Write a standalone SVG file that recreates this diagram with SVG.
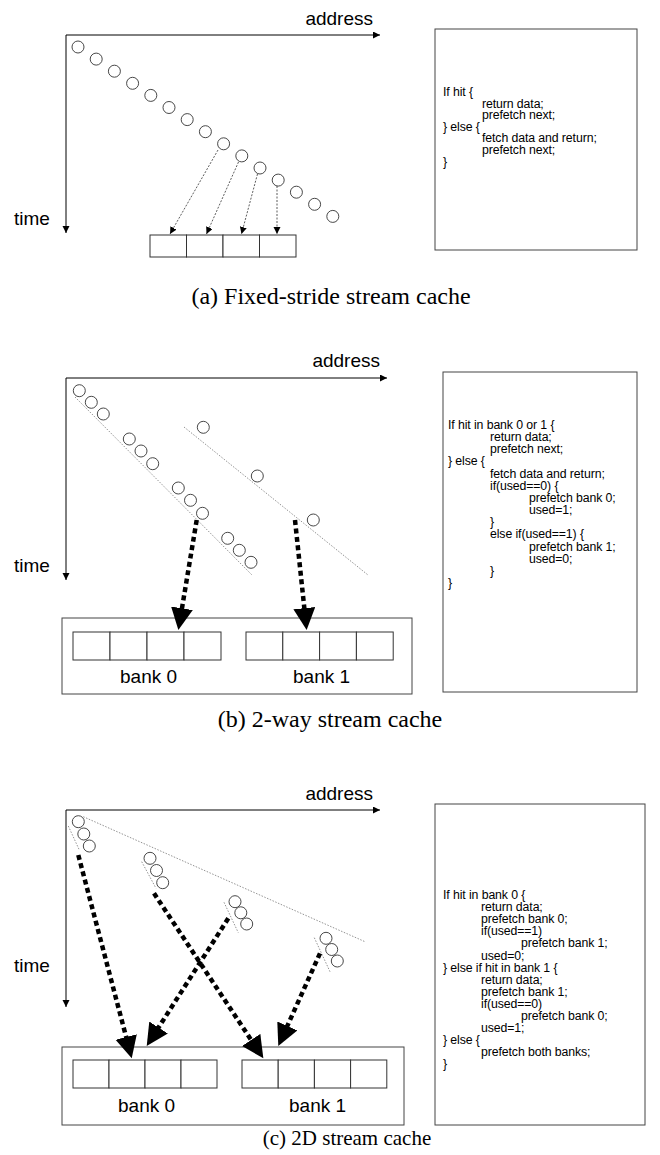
<svg xmlns="http://www.w3.org/2000/svg" width="660" height="1155" viewBox="0 0 660 1155">
<style>
.bg{fill:#fff}
.axis{stroke:#000;stroke-width:1;fill:none}
.lbl{font-family:"Liberation Sans",Arial,sans-serif;font-size:19px;fill:#000}
.cap{font-family:"Liberation Serif","Times New Roman",serif;font-size:24px;fill:#000}
.cap-c{font-size:21px}
.code{font-family:"Liberation Sans",Arial,sans-serif;font-size:12.3px;fill:#000;letter-spacing:-0.1px}
.pt{fill:#fff;stroke:#333;stroke-width:0.9}
.cell{fill:#fff;stroke:#333;stroke-width:1}
.frame{fill:#fff;stroke:#444;stroke-width:1}
.thin{stroke:#333;stroke-width:0.8;stroke-dasharray:2 1.5;fill:none}
.guide{stroke:#777;stroke-width:0.8;stroke-dasharray:1.5 1.5;fill:none}
.thick{stroke:#000;stroke-width:4.5;stroke-dasharray:5 3.5;fill:none}
</style>
<defs>
<marker id="sm" markerUnits="userSpaceOnUse" markerWidth="8" markerHeight="8" refX="7" refY="3.5" orient="auto"><path d="M0,0 L7,3.5 L0,7 z" fill="#000"/></marker>
<marker id="big" markerUnits="userSpaceOnUse" markerWidth="23" markerHeight="23" refX="12" refY="11" orient="auto"><path d="M0,0 L22,11 L0,22 z" fill="#000"/></marker>
</defs>
<rect class="bg" x="0" y="0" width="660" height="1155"/>

<!-- ===== Panel (a) ===== -->
<g id="a-axes">
<line class="axis" x1="66" y1="35" x2="380" y2="35" marker-end="url(#sm)"/>
<line class="axis" x1="66" y1="35" x2="66" y2="233" marker-end="url(#sm)"/>
<text class="lbl" x="373" y="25" text-anchor="end">address</text>
<text class="lbl" x="14" y="225">time</text>
</g>
<g id="a-points">
<circle class="pt" cx="78" cy="47" r="6"/>
<circle class="pt" cx="96.2" cy="59.1" r="6"/>
<circle class="pt" cx="114.4" cy="71.2" r="6"/>
<circle class="pt" cx="132.6" cy="83.3" r="6"/>
<circle class="pt" cx="150.8" cy="95.4" r="6"/>
<circle class="pt" cx="169" cy="107.5" r="6"/>
<circle class="pt" cx="187.2" cy="119.6" r="6"/>
<circle class="pt" cx="205.4" cy="131.7" r="6"/>
<circle class="pt" cx="223.6" cy="143.8" r="6"/>
<circle class="pt" cx="241.8" cy="155.9" r="6"/>
<circle class="pt" cx="260" cy="168" r="6"/>
<circle class="pt" cx="278.2" cy="180.1" r="6"/>
<circle class="pt" cx="296.4" cy="192.2" r="6"/>
<circle class="pt" cx="314.6" cy="204.3" r="6"/>
<circle class="pt" cx="332.8" cy="216.4" r="6"/>
</g>
<g id="a-cache">
<rect class="cell" x="150" y="235" width="36.5" height="22"/>
<rect class="cell" x="186.5" y="235" width="36.5" height="22"/>
<rect class="cell" x="223" y="235" width="36.5" height="22"/>
<rect class="cell" x="259.5" y="235" width="36.5" height="22"/>
</g>
<g id="a-connectors">
<line class="thin" x1="218" y1="150" x2="170" y2="234" marker-end="url(#sm)"/>
<line class="thin" x1="238.5" y1="162" x2="206.5" y2="234" marker-end="url(#sm)"/>
<line class="thin" x1="257.5" y1="174" x2="241.5" y2="234" marker-end="url(#sm)"/>
<line class="thin" x1="277" y1="186" x2="277" y2="234" marker-end="url(#sm)"/>
</g>
<g id="a-code">
<rect class="frame" x="435" y="29" width="202" height="221"/>
<text class="code">
<tspan x="443" y="96">If hit {</tspan>
<tspan x="482" y="107.6">return data;</tspan>
<tspan x="482" y="119.2">prefetch next;</tspan>
<tspan x="443" y="130.8">} else {</tspan>
<tspan x="482" y="142.4">fetch data and return;</tspan>
<tspan x="482" y="154">prefetch next;</tspan>
<tspan x="443" y="165.6">}</tspan>
</text>
</g>
<text class="cap" x="331" y="304" text-anchor="middle">(a) Fixed-stride stream cache</text>

<!-- ===== Panel (b) ===== -->
<g id="b-axes">
<line class="axis" x1="66" y1="378" x2="387" y2="378" marker-end="url(#sm)"/>
<line class="axis" x1="66" y1="378" x2="66" y2="580" marker-end="url(#sm)"/>
<text class="lbl" x="380" y="367" text-anchor="end">address</text>
<text class="lbl" x="14" y="572">time</text>
</g>
<g id="b-guides">
<line class="guide" x1="75" y1="397" x2="252" y2="575"/>
<line class="guide" x1="184" y1="427" x2="368" y2="575"/>
</g>
<g id="b-points">
<circle class="pt" cx="79.3" cy="390.7" r="6"/>
<circle class="pt" cx="91.3" cy="402.3" r="6"/>
<circle class="pt" cx="103.3" cy="414" r="6"/>
<circle class="pt" cx="129.3" cy="439" r="6"/>
<circle class="pt" cx="141" cy="451" r="6"/>
<circle class="pt" cx="152.7" cy="463.7" r="6"/>
<circle class="pt" cx="178.3" cy="488" r="6"/>
<circle class="pt" cx="190.5" cy="500.3" r="6"/>
<circle class="pt" cx="202.5" cy="513.3" r="6"/>
<circle class="pt" cx="227.7" cy="538.3" r="6"/>
<circle class="pt" cx="239.3" cy="550.3" r="6"/>
<circle class="pt" cx="251" cy="562.3" r="6"/>
<circle class="pt" cx="203.3" cy="427.3" r="6"/>
<circle class="pt" cx="257.3" cy="476" r="6"/>
<circle class="pt" cx="313.3" cy="520" r="6"/>
</g>
<g id="b-cache">
<rect class="frame" x="62" y="618" width="350" height="76"/>
<rect class="cell" x="73" y="632" width="37" height="28"/>
<rect class="cell" x="110" y="632" width="37" height="28"/>
<rect class="cell" x="147" y="632" width="37" height="28"/>
<rect class="cell" x="184" y="632" width="37" height="28"/>
<rect class="cell" x="246" y="632" width="36.8" height="28"/>
<rect class="cell" x="282.8" y="632" width="36.8" height="28"/>
<rect class="cell" x="319.6" y="632" width="36.8" height="28"/>
<rect class="cell" x="356.4" y="632" width="36.8" height="28"/>
<text class="lbl" x="120" y="683">bank 0</text>
<text class="lbl" x="293" y="683">bank 1</text>
</g>
<g id="b-connectors">
<line class="thick" x1="196.7" y1="520" x2="180" y2="620.1" marker-end="url(#big)"/>
<line class="thick" x1="295" y1="520" x2="305.6" y2="620.1" marker-end="url(#big)"/>
</g>
<g id="b-code">
<rect class="frame" x="443" y="372" width="194" height="320"/>
<text class="code">
<tspan x="448" y="429">If hit in bank 0 or 1 {</tspan>
<tspan x="490" y="441.15">return data;</tspan>
<tspan x="490" y="453.3">prefetch next;</tspan>
<tspan x="448" y="465.45">} else {</tspan>
<tspan x="490" y="477.6">fetch data and return;</tspan>
<tspan x="490" y="489.75">if(used==0) {</tspan>
<tspan x="529" y="501.9">prefetch bank 0;</tspan>
<tspan x="529" y="514.05">used=1;</tspan>
<tspan x="490" y="526.2">}</tspan>
<tspan x="490" y="538.35">else if(used==1) {</tspan>
<tspan x="529" y="550.5">prefetch bank 1;</tspan>
<tspan x="529" y="562.65">used=0;</tspan>
<tspan x="490" y="574.8">}</tspan>
<tspan x="448" y="586.95">}</tspan>
</text>
</g>
<text class="cap" x="330" y="727" text-anchor="middle">(b) 2-way stream cache</text>

<!-- ===== Panel (c) ===== -->
<g id="c-axes">
<line class="axis" x1="66" y1="810" x2="380" y2="810" marker-end="url(#sm)"/>
<line class="axis" x1="66" y1="810" x2="66" y2="1007" marker-end="url(#sm)"/>
<text class="lbl" x="373" y="800" text-anchor="end">address</text>
<text class="lbl" x="14" y="972">time</text>
</g>
<g id="c-guides">
<line class="guide" x1="83.3" y1="816.7" x2="365" y2="941.7"/>
<line class="guide" x1="68.3" y1="826" x2="79.3" y2="850"/>
<line class="guide" x1="141.7" y1="861.7" x2="156" y2="888.3"/>
<line class="guide" x1="224" y1="902.3" x2="238.3" y2="932.7"/>
<line class="guide" x1="314.3" y1="937.7" x2="330" y2="971.7"/>
</g>
<g id="c-points">
<circle class="pt" cx="78.3" cy="821.7" r="6"/>
<circle class="pt" cx="83.8" cy="834" r="6"/>
<circle class="pt" cx="89.3" cy="846" r="6"/>
<circle class="pt" cx="150" cy="858.3" r="6"/>
<circle class="pt" cx="156.5" cy="870.5" r="6"/>
<circle class="pt" cx="162.7" cy="882.7" r="6"/>
<circle class="pt" cx="235" cy="901.7" r="6"/>
<circle class="pt" cx="240.8" cy="912.8" r="6"/>
<circle class="pt" cx="246.7" cy="924" r="6"/>
<circle class="pt" cx="326" cy="938.3" r="6"/>
<circle class="pt" cx="331.7" cy="949.5" r="6"/>
<circle class="pt" cx="337.3" cy="961" r="6"/>
</g>
<g id="c-cache">
<rect class="frame" x="62" y="1047" width="342" height="78"/>
<rect class="cell" x="73" y="1060" width="36" height="28"/>
<rect class="cell" x="109" y="1060" width="36" height="28"/>
<rect class="cell" x="145" y="1060" width="36" height="28"/>
<rect class="cell" x="181" y="1060" width="36" height="28"/>
<rect class="cell" x="242" y="1060" width="36.2" height="28"/>
<rect class="cell" x="278.2" y="1060" width="36.2" height="28"/>
<rect class="cell" x="314.4" y="1060" width="36.2" height="28"/>
<rect class="cell" x="350.6" y="1060" width="36.2" height="28"/>
<text class="lbl" x="118" y="1112">bank 0</text>
<text class="lbl" x="289" y="1112">bank 1</text>
</g>
<g id="c-connectors">
<line class="thick" x1="78.3" y1="855" x2="129.2" y2="1048.6" marker-end="url(#big)"/>
<line class="thick" x1="154" y1="893.3" x2="257.8" y2="1050" marker-end="url(#big)"/>
<line class="thick" x1="228.3" y1="918.3" x2="152.1" y2="1037.6" marker-end="url(#big)"/>
<line class="thick" x1="320" y1="953.3" x2="282.4" y2="1036.9" marker-end="url(#big)"/>
</g>
<g id="c-code">
<rect class="frame" x="435" y="804" width="210" height="321"/>
<text class="code">
<tspan x="443" y="899">If hit in bank 0 {</tspan>
<tspan x="481" y="911.1">return data;</tspan>
<tspan x="481" y="923.2">prefetch bank 0;</tspan>
<tspan x="481" y="935.3">if(used==1)</tspan>
<tspan x="521" y="947.4">prefetch bank 1;</tspan>
<tspan x="481" y="959.5">used=0;</tspan>
<tspan x="443" y="971.6">} else if hit in bank 1 {</tspan>
<tspan x="481" y="983.7">return data;</tspan>
<tspan x="481" y="995.8">prefetch bank 1;</tspan>
<tspan x="481" y="1007.9">if(used==0)</tspan>
<tspan x="521" y="1020">prefetch bank 0;</tspan>
<tspan x="481" y="1032.1">used=1;</tspan>
<tspan x="443" y="1044.2">} else {</tspan>
<tspan x="481" y="1056.3">prefetch both banks;</tspan>
<tspan x="443" y="1068.4">}</tspan>
</text>
</g>
<text class="cap cap-c" x="347" y="1145" text-anchor="middle">(c) 2D stream cache</text>
</svg>
